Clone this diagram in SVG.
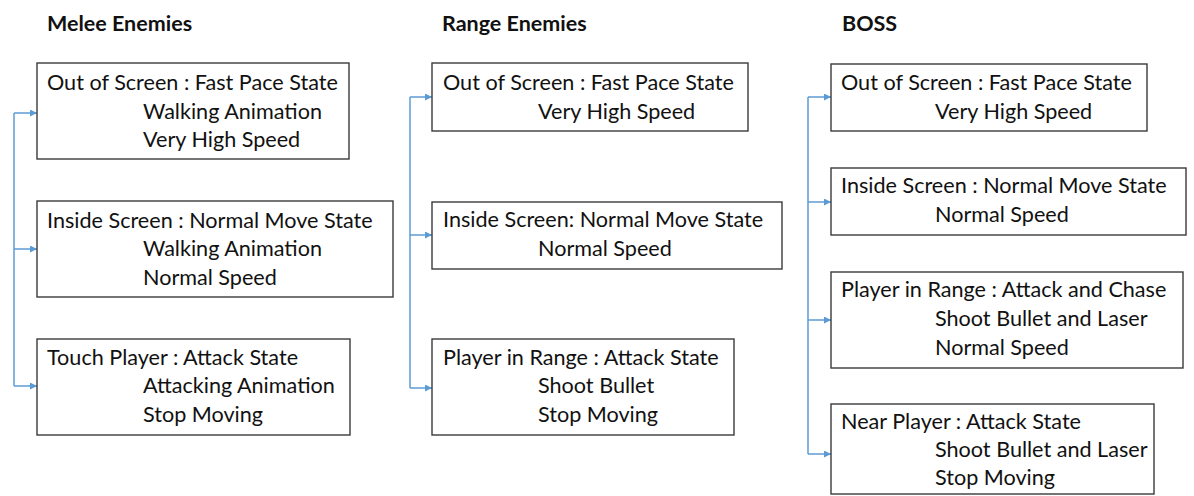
<svg xmlns="http://www.w3.org/2000/svg" width="1194" height="496" viewBox="0 0 1194 496">
  <style>
    .bg { fill: #ffffff; }
    .box { fill: #ffffff; stroke: #3a3a3a; stroke-width: 1.4; }
    .lbl { font-family: Lato, "Liberation Sans", sans-serif; font-size: 21.6px; fill: #111111; }
    .title { font-family: Lato, "Liberation Sans", sans-serif; font-size: 21.5px; font-weight: bold; fill: #111111; }
    .wire { fill: none; stroke: #5b9bd5; stroke-width: 1.5; }
    .arrow { fill: none; stroke: #5b9bd5; stroke-width: 1.5; marker-end: url(#head); }
  </style>
  <defs>
    <marker id="head" markerUnits="userSpaceOnUse" markerWidth="8" markerHeight="8" refX="7" refY="3.5" orient="auto">
      <path d="M0,0 L7,3.5 L0,7 z" fill="#5b9bd5"/>
    </marker>
  </defs>
  <rect class="bg" x="0" y="0" width="1194" height="496"/>

  <!-- column headings -->
  <g id="titles">
    <text class="title" x="47" y="31">Melee Enemies</text>
    <text class="title" x="442" y="31">Range Enemies</text>
    <text class="title" x="842" y="31">BOSS</text>
  </g>

  <!-- connectors -->
  <g id="connectors">
    <path class="wire" d="M14,113 V386"/>
    <path class="arrow" d="M14,113 H37"/>
    <path class="arrow" d="M14,249 H37"/>
    <path class="arrow" d="M14,386 H37"/>

    <path class="wire" d="M410,97 V388"/>
    <path class="arrow" d="M410,97 H432"/>
    <path class="arrow" d="M410,235 H432"/>
    <path class="arrow" d="M410,388 H432"/>

    <path class="wire" d="M808,97 V454"/>
    <path class="arrow" d="M808,97 H831"/>
    <path class="arrow" d="M808,202 H831"/>
    <path class="arrow" d="M808,320 H831"/>
    <path class="arrow" d="M808,454 H831"/>
  </g>

  <!-- melee enemies -->
  <g id="melee-out">
    <rect class="box" x="37" y="63" width="312" height="96"/>
    <text class="lbl" x="47" y="90">Out of Screen : Fast Pace State</text>
    <text class="lbl" x="143" y="119">Walking Animation</text>
    <text class="lbl" x="143" y="147">Very High Speed</text>
  </g>
  <g id="melee-inside">
    <rect class="box" x="37" y="201" width="356" height="96"/>
    <text class="lbl" x="47" y="228">Inside Screen : Normal Move State</text>
    <text class="lbl" x="143" y="256">Walking Animation</text>
    <text class="lbl" x="143" y="285">Normal Speed</text>
  </g>
  <g id="melee-touch">
    <rect class="box" x="37" y="339" width="313" height="96"/>
    <text class="lbl" x="47" y="365">Touch Player : Attack State</text>
    <text class="lbl" x="143" y="393">Attacking Animation</text>
    <text class="lbl" x="143" y="422">Stop Moving</text>
  </g>

  <!-- range enemies -->
  <g id="range-out">
    <rect class="box" x="432" y="63" width="316" height="68"/>
    <text class="lbl" x="443" y="90">Out of Screen : Fast Pace State</text>
    <text class="lbl" x="538" y="119">Very High Speed</text>
  </g>
  <g id="range-inside">
    <rect class="box" x="432" y="202" width="350" height="67"/>
    <text class="lbl" x="443" y="227">Inside Screen: Normal Move State</text>
    <text class="lbl" x="538" y="256">Normal Speed</text>
  </g>
  <g id="range-attack">
    <rect class="box" x="432" y="339" width="302" height="96"/>
    <text class="lbl" x="443" y="365">Player in Range : Attack State</text>
    <text class="lbl" x="538" y="393">Shoot Bullet</text>
    <text class="lbl" x="538" y="422">Stop Moving</text>
  </g>

  <!-- boss -->
  <g id="boss-out">
    <rect class="box" x="831" y="64" width="316" height="67"/>
    <text class="lbl" x="841" y="90">Out of Screen : Fast Pace State</text>
    <text class="lbl" x="935" y="119">Very High Speed</text>
  </g>
  <g id="boss-inside">
    <rect class="box" x="831" y="168" width="355" height="67"/>
    <text class="lbl" x="841" y="193">Inside Screen : Normal Move State</text>
    <text class="lbl" x="935" y="222">Normal Speed</text>
  </g>
  <g id="boss-range">
    <rect class="box" x="831" y="272" width="352" height="96"/>
    <text class="lbl" x="841" y="297">Player in Range : Attack and Chase</text>
    <text class="lbl" x="935" y="326">Shoot Bullet and Laser</text>
    <text class="lbl" x="935" y="355">Normal Speed</text>
  </g>
  <g id="boss-near">
    <rect class="box" x="831" y="404" width="323" height="90"/>
    <text class="lbl" x="841" y="429">Near Player : Attack State</text>
    <text class="lbl" x="935" y="457">Shoot Bullet and Laser</text>
    <text class="lbl" x="935" y="485">Stop Moving</text>
  </g>
</svg>
